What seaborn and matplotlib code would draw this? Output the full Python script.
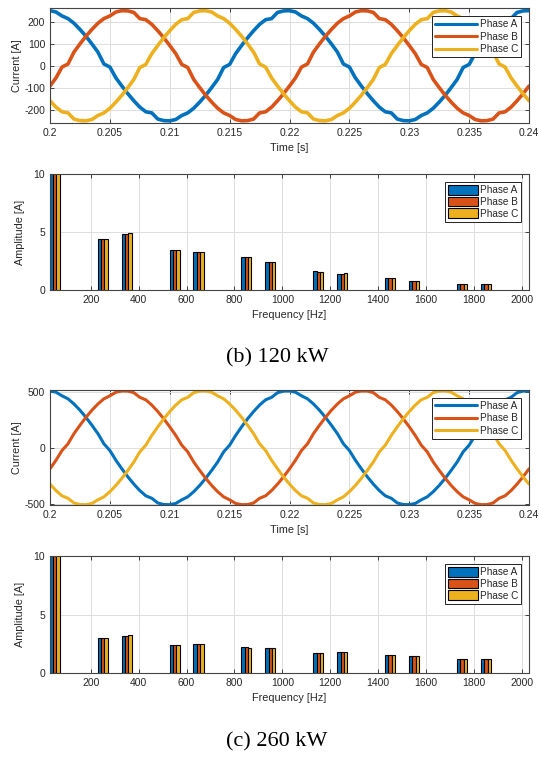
import numpy as np
import pandas as pd
import matplotlib
matplotlib.use("Agg")
import matplotlib.pyplot as plt
from matplotlib.ticker import FormatStrFormatter
import seaborn as sns

# ---- data ----
time_s = np.linspace(0.2, 0.24, 81)   # 0.5 ms samples
phase_names = ["Phase A", "Phase B", "Phase C"]

# 120 kW phase currents [A]
ia_120 = [250, 244, 226, 214, 193, 165, 134, 99, 62, 8, -6, -55, -92, -127, -159, -188, -209, -214, -242, -249,
          -250, -244, -226, -214, -193, -165, -134, -99, -62, -8, 6, 55, 92, 127, 159, 188, 209, 214, 242, 249,
          250, 244, 226, 214, 193, 165, 134, 99, 62, 8, -6, -55, -92, -127, -159, -188, -209, -214, -242, -249,
          -250, -244, -226, -214, -193, -165, -134, -99, -62, -8, 6, 55, 92, 127, 159, 188, 209, 214, 242, 249, 250]
ib_120 = [-92, -55, -6, 8, 62, 99, 134, 165, 193, 214, 226, 244, 250, 249, 242, 214, 209, 188, 159, 127,
          92, 55, 6, -8, -62, -99, -134, -165, -193, -214, -226, -244, -250, -249, -242, -214, -209, -188, -159, -127,
          -92, -55, -6, 8, 62, 99, 134, 165, 193, 214, 226, 244, 250, 249, 242, 214, 209, 188, 159, 127,
          92, 55, 6, -8, -62, -99, -134, -165, -193, -214, -226, -244, -250, -249, -242, -214, -209, -188, -159, -127, -92]
ic_120 = [-159, -188, -209, -214, -242, -249, -250, -244, -226, -214, -193, -165, -134, -99, -62, -8, 6, 55, 92, 127,
          159, 188, 209, 214, 242, 249, 250, 244, 226, 214, 193, 165, 134, 99, 62, 8, -6, -55, -92, -127,
          -159, -188, -209, -214, -242, -249, -250, -244, -226, -214, -193, -165, -134, -99, -62, -8, 6, 55, 92, 127,
          159, 188, 209, 214, 242, 249, 250, 244, 226, 214, 193, 165, 134, 99, 62, 8, -6, -55, -92, -127, -159]

# 260 kW phase currents [A]
ia_260 = [509, 498, 466, 439, 393, 337, 273, 202, 127, 36, -24, -111, -188, -260, -325, -383, -430, -452, -494, -508,
          -509, -498, -466, -439, -393, -337, -273, -202, -127, -36, 24, 111, 188, 260, 325, 383, 430, 452, 494, 508,
          509, 498, 466, 439, 393, 337, 273, 202, 127, 36, -24, -111, -188, -260, -325, -383, -430, -452, -494, -508,
          -509, -498, -466, -439, -393, -337, -273, -202, -127, -36, 24, 111, 188, 260, 325, 383, 430, 452, 494, 508, 509]
ib_260 = [-188, -111, -24, 36, 127, 202, 273, 337, 393, 439, 466, 498, 509, 508, 494, 452, 430, 383, 325, 260,
          188, 111, 24, -36, -127, -202, -273, -337, -393, -439, -466, -498, -509, -508, -494, -452, -430, -383, -325, -260,
          -188, -111, -24, 36, 127, 202, 273, 337, 393, 439, 466, 498, 509, 508, 494, 452, 430, 383, 325, 260,
          188, 111, 24, -36, -127, -202, -273, -337, -393, -439, -466, -498, -509, -508, -494, -452, -430, -383, -325, -260, -188]
ic_260 = [-325, -383, -430, -452, -494, -508, -509, -498, -466, -439, -393, -337, -273, -202, -127, -36, 24, 111, 188, 260,
          325, 383, 430, 452, 494, 508, 509, 498, 466, 439, 393, 337, 273, 202, 127, 36, -24, -111, -188, -260,
          -325, -383, -430, -452, -494, -508, -509, -498, -466, -439, -393, -337, -273, -202, -127, -36, 24, 111, 188, 260,
          325, 383, 430, 452, 494, 508, 509, 498, 466, 439, 393, 337, 273, 202, 127, 36, -24, -111, -188, -260, -325]

# harmonic spectrum [A] (fundamental is clipped by the 10 A limit)
harm_freq = [50, 250, 350, 550, 650, 850, 950, 1150, 1250, 1450, 1550, 1750, 1850]
amp_a_120 = [250, 4.41, 4.84, 3.49, 3.26, 2.85, 2.40, 1.64, 1.42, 1.01, 0.81, 0.55, 0.49]
amp_b_120 = [250, 4.36, 4.82, 3.49, 3.26, 2.85, 2.40, 1.57, 1.42, 1.01, 0.81, 0.55, 0.48]
amp_c_120 = [250, 4.44, 4.93, 3.46, 3.25, 2.84, 2.45, 1.56, 1.50, 1.01, 0.81, 0.55, 0.48]
amp_a_260 = [510, 2.97, 3.17, 2.40, 2.46, 2.21, 2.11, 1.71, 1.80, 1.51, 1.46, 1.20, 1.20]
amp_b_260 = [510, 2.97, 3.17, 2.40, 2.46, 2.21, 2.11, 1.71, 1.80, 1.51, 1.46, 1.20, 1.20]
amp_c_260 = [510, 2.97, 3.23, 2.40, 2.46, 2.18, 2.11, 1.71, 1.80, 1.51, 1.46, 1.20, 1.20]

colors = {"Phase A": "#0072BD", "Phase B": "#D95319", "Phase C": "#EDB120"}

# ---- style ----
sns.set_theme(style="whitegrid")
plt.rcParams['font.family'] = ['Liberation Sans', 'DejaVu Sans']
plt.rcParams['axes.unicode_minus'] = False
txt = "#262626"
plt.rcParams.update({
    'axes.edgecolor': '#444444', 'axes.linewidth': 0.8,
    'grid.color': '#dddddd', 'grid.linewidth': 0.7,
    'xtick.color': txt, 'ytick.color': txt,
    'xtick.labelcolor': txt, 'ytick.labelcolor': txt,
    'axes.labelcolor': txt,
    'xtick.labelsize': 7.5, 'ytick.labelsize': 7.5, 'axes.labelsize': 7.8,
    'xtick.direction': 'in', 'ytick.direction': 'in',
    'xtick.major.size': 3, 'ytick.major.size': 3,
    'xtick.major.width': 0.6, 'ytick.major.width': 0.6,
    'xtick.top': True, 'ytick.right': True,
    'xtick.bottom': True, 'ytick.left': True,
})

fig = plt.figure(figsize=(5.39, 7.58), dpi=100)
L, W = 0.0928, 0.8887
ax1 = fig.add_axes([L, 0.8377, W, 0.1517])
ax2 = fig.add_axes([L, 0.6174, W, 0.1530])
ax3 = fig.add_axes([L, 0.3338, W, 0.1517])
ax4 = fig.add_axes([L, 0.1121, W, 0.1544])


def draw_wave(ax, ia, ib, ic, ylim, yticks, lw):
    df = pd.DataFrame({
        "t": np.tile(time_s, 3),
        "i": ia + ib + ic,
        "phase": np.repeat(phase_names, len(time_s)),
    })
    sns.lineplot(data=df, x="t", y="i", hue="phase", palette=colors,
                 estimator=None, lw=lw, ax=ax)
    ax.set_xlim(0.2, 0.24)
    ax.set_ylim(*ylim)
    ax.set_xticks([0.2, 0.205, 0.21, 0.215, 0.22, 0.225, 0.23, 0.235, 0.24])
    ax.xaxis.set_major_formatter(FormatStrFormatter('%g'))
    ax.set_yticks(yticks)
    ax.set_xlabel("Time [s]", labelpad=4)
    ax.set_ylabel("Current [A]", labelpad=2)
    h, l = ax.get_legend_handles_labels()
    leg = ax.legend(h, l, loc="upper right", fontsize=7.2, frameon=True, fancybox=False,
                    edgecolor="#222222", framealpha=1, handlelength=4.2, handletextpad=0.3,
                    labelspacing=0.25, borderpad=0.3, borderaxespad=0.8)
    leg.get_frame().set_linewidth(0.7)
    for line in leg.get_lines():
        line.set_linewidth(2.2)


def draw_spec(ax, a, b, c):
    df = pd.DataFrame({
        "f": harm_freq * 3,
        "amp": a + b + c,
        "phase": np.repeat(phase_names, len(harm_freq)),
    })
    sns.barplot(data=df, x="f", y="amp", hue="phase", palette=colors, native_scale=True,
                width=0.42, edgecolor="black", linewidth=0.8, errorbar=None, saturation=1, ax=ax)
    ax.set_xlim(30, 2030)
    ax.set_ylim(0, 10)
    ax.set_xticks(range(200, 2001, 200))
    ax.set_yticks([0, 5, 10])
    ax.set_xlabel("Frequency [Hz]", labelpad=4)
    ax.set_ylabel("Amplitude [A]", labelpad=6)
    ax.grid(True, axis="both")
    ax.set_axisbelow(True)
    h, l = ax.get_legend_handles_labels()
    leg = ax.legend(h, l, loc="upper right", fontsize=7.2, frameon=True, fancybox=False,
                    edgecolor="#222222", framealpha=1, handlelength=3.0, handleheight=1.1,
                    handletextpad=0.2, labelspacing=0.15, borderpad=0.3, borderaxespad=0.8)
    leg.get_frame().set_linewidth(0.7)
    for p in leg.get_patches():
        p.set_edgecolor("black")
        p.set_linewidth(0.8)


draw_wave(ax1, ia_120, ib_120, ic_120, (-260, 262), [-200, -100, 0, 100, 200], 2.6)
draw_spec(ax2, amp_a_120, amp_b_120, amp_c_120)
draw_wave(ax3, ia_260, ib_260, ic_260, (-512, 518), [-500, 0, 500], 2.2)
draw_spec(ax4, amp_a_260, amp_b_260, amp_c_260)

for ax in (ax1, ax2, ax3, ax4):
    for s in ax.spines.values():
        s.set_visible(True)
        s.set_color("#444444")

fig.text(0.514, 0.5277, "(b) 120 kW", family="Liberation Serif", fontsize=16,
         ha="center", va="center", color="black")
fig.text(0.514, 0.021, "(c) 260 kW", family="Liberation Serif", fontsize=16,
         ha="center", va="center", color="black")

fig.savefig("out.png", dpi=100)
